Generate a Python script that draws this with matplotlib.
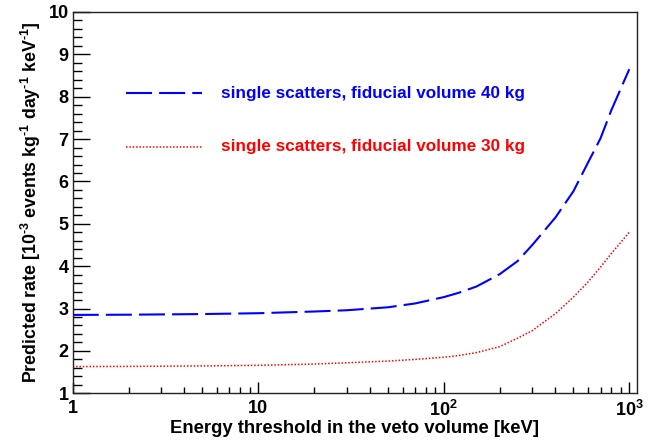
import matplotlib
matplotlib.use("Agg")
import matplotlib.pyplot as plt
from matplotlib.ticker import FixedLocator, FixedFormatter, NullFormatter

plt.rcParams['font.family'] = ['Liberation Sans', 'DejaVu Sans']
plt.rcParams['font.weight'] = 'bold'
plt.rcParams['mathtext.fontset'] = 'custom'
plt.rcParams['mathtext.rm'] = 'Liberation Sans:bold'
plt.rcParams['mathtext.it'] = 'Liberation Sans:bold'
plt.rcParams['mathtext.bf'] = 'Liberation Sans:bold'

# Data
energy_kev = [1, 2, 5, 10, 20, 30, 50, 70, 100, 120, 150, 200, 250, 300, 400, 500, 600, 700, 800, 1000]
rate_40kg = [2.85, 2.855, 2.87, 2.89, 2.93, 2.96, 3.03, 3.12, 3.27, 3.37, 3.52, 3.81, 4.12, 4.50, 5.15, 5.77, 6.45, 7.02, 7.68, 8.65]
rate_30kg = [1.63, 1.635, 1.645, 1.66, 1.69, 1.72, 1.76, 1.80, 1.85, 1.89, 1.96, 2.10, 2.30, 2.48, 2.88, 3.27, 3.63, 3.98, 4.30, 4.80]
label_40 = "single scatters, fiducial volume 40 kg"
label_30 = "single scatters, fiducial volume 30 kg"
xtick_vals = [1, 10, 100, 1000]
xtick_labels = ["1", "10", "10$^2$", "10$^3$"]
ytick_vals = [1, 2, 3, 4, 5, 6, 7, 8, 9, 10]

fig = plt.figure(figsize=(6.52, 4.41), dpi=100)
ax = fig.add_axes([0.1115, 0.1082, 0.9765 - 0.1115, 0.9728 - 0.1082])

blue_ls = (0, (12.5, 3.4))
red_ls = (0, (1.0, 1.2))
ax.plot(energy_kev, rate_40kg, color='#0000ff', lw=1.5, linestyle=blue_ls)
ax.plot(energy_kev, rate_30kg, color='#ff0000', lw=1.1, linestyle=red_ls)

ax.set_xscale('log')
ax.set_xlim(1, 1096)
ax.set_ylim(1, 10)

ax.xaxis.set_major_locator(FixedLocator(xtick_vals))
ax.xaxis.set_major_formatter(FixedFormatter(xtick_labels))
minor = [m * 10 ** d for d in range(0, 3) for m in range(2, 10)]
ax.xaxis.set_minor_locator(FixedLocator(minor))
ax.xaxis.set_minor_formatter(NullFormatter())

ax.yaxis.set_major_locator(FixedLocator(ytick_vals))
ax.yaxis.set_minor_locator(FixedLocator([1 + 0.2 * i for i in range(46) if i % 5 != 0]))

ax.tick_params(axis='x', which='major', direction='in', length=8, width=1.0, labelsize=13, pad=5, top=False)
ax.tick_params(axis='x', which='minor', direction='in', length=4.5, width=1.0, top=False)
ax.tick_params(axis='y', which='major', direction='in', length=12.5, width=1.0, labelsize=13, pad=3, right=False)
ax.tick_params(axis='y', which='minor', direction='in', length=6.5, width=1.0, right=False)
for s in ax.spines.values():
    s.set_linewidth(1.0)
    s.set_color('#222222')

ax.set_xlabel("Energy threshold in the veto volume [keV]", fontsize=13.3, fontweight='bold', labelpad=0)
ax.set_ylabel("Predicted rate [10$^{\\text{-}3}$ events kg$^{\\text{-}1}$ day$^{\\text{-}1}$ keV$^{\\text{-}1}$]",
              fontsize=12.8, fontweight='bold', labelpad=4)

# legend drawn manually in axes-fraction coordinates
lx0, lx1, tx = 0.094, 0.23, 0.263
ax.plot([lx0, lx1], [0.787, 0.787], transform=ax.transAxes, color='#0000ff', lw=1.5, linestyle=blue_ls)
ax.plot([lx0, lx1], [0.647, 0.647], transform=ax.transAxes, color='#ff0000', lw=1.1, linestyle=red_ls)
ax.text(tx, 0.787, label_40, transform=ax.transAxes, color='#0000ff', fontsize=12.3,
        fontweight='bold', va='center', ha='left')
ax.text(tx, 0.647, label_30, transform=ax.transAxes, color='#ff0000', fontsize=12.3,
        fontweight='bold', va='center', ha='left')

fig.savefig("out.png", dpi=100)
